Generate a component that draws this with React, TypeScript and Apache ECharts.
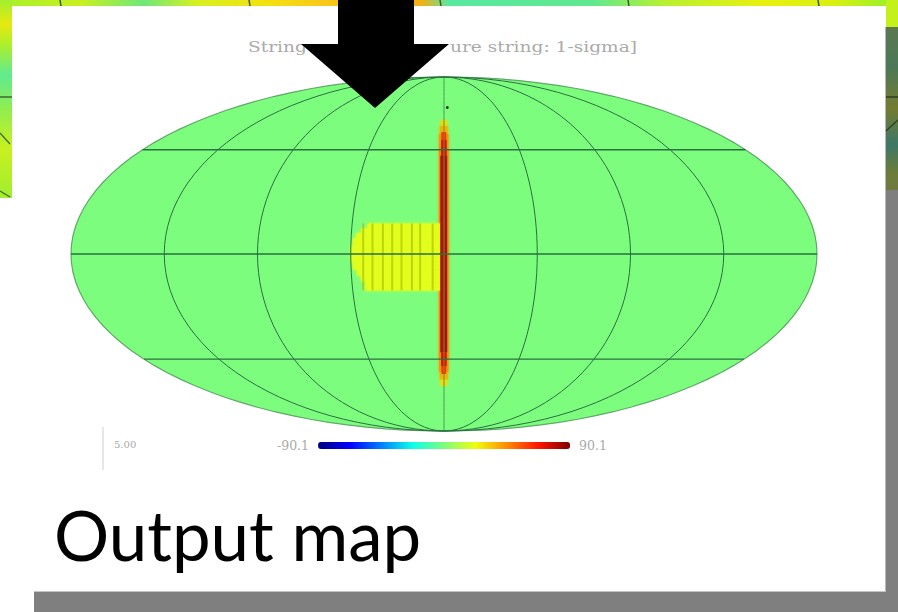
import React, { useEffect, useRef } from "react";
import * as echarts from "echarts";

// Graticule of the Mollweide map, in map degrees
const meridians = [-135, -90, -45, 45, 90, 135];
const centralMeridian = 0;
const parallels = [53, 0, -53.5];

// Map cells: [xStart, xEnd, yStart, yEnd, value]
const stringHalo = [
  [-1.6, 1.4, 68, 65, 30],
  [-2.0, 1.8, 65, 61, 38],
  [-2.3, 2.1, 61, 54, 44],
  [-2.4, 2.2, 54, -54, 46],
  [-2.3, 2.1, -54, -60, 44],
  [-2.0, 1.8, -60, -64, 38],
  [-1.6, 1.4, -64, -67, 30],
];
const stringCore = [
  [-1.2, 1.0, 62, 58, 62],
  [-1.4, 1.2, 58, 50, 74],
  [-1.7, 1.5, 50, -50, 82],
  [-1.4, 1.2, -50, -57, 74],
  [-1.2, 1.0, -57, -61, 62],
];
const block = [
  [-37, -2, 15.5, 13, 20],
  [-40, -2, 13, 10.5, 20],
  [-42.5, -2, 10.5, 8, 20],
  [-44, -2, 8, 4, 20],
  [-45, -2, 4, -4, 20],
  [-44, -2, -4, -8, 20],
  [-42, -2, -8, -11, 20],
  [-40, -2, -11, -14, 20],
  [-38, -2, -14, -18.5, 20],
];
const blockStripes = [-39, -34.5, -29.5, -25, -20.5, -15.5, -11.5, -5.5];
const dot = [[1.6, 74.5]];

const jet = ["#00007f", "#0000ff", "#007fff", "#0dffe9", "#7dfd7d", "#efff0f", "#ff8a00", "#ff1400", "#7f0000"];
const colorbarLabels = ["90.1", "-90.1"];
const titleLeft = "String";
const titleRight = "ure string: 1-sigma]";
const cornerLabel = "5.00";
const caption = "Output map";

// Colours of the map that shows behind the slide
const topStripColors = [
  [0, "#a6f02a"], [0.09, "#c8f020"], [0.16, "#6ee878"], [0.22, "#d8f020"], [0.3, "#f4e010"],
  [0.36, "#f8c818"], [0.47, "#f0b018"], [0.5, "#58e8a0"], [0.66, "#60e890"], [0.74, "#b8f030"],
  [0.85, "#e8f010"], [0.93, "#d8f010"], [1, "#90f030"],
];
const leftStripColors = [
  [0, "#a0f030"], [0.12, "#e8e810"], [0.22, "#b0f028"], [0.38, "#60ea90"], [0.55, "#90ee50"],
  [0.75, "#c8f020"], [1, "#a0ee30"],
];
const rightStripColors = [
  [0, "#5a7850"], [0.25, "#4c7858"], [0.5, "#747c30"], [0.72, "#3e7868"], [0.9, "#6c7c38"], [1, "#707840"],
];
const topTicks = [60, 249, 440, 628, 818];

function ellipsePoints(scale: number) {
  const pts: number[][] = [];
  for (let a = -90; a <= 90; a += 3) {
    const t = (a * Math.PI) / 180;
    pts.push([scale * Math.cos(t), 90 * Math.sin(t)]);
  }
  return pts;
}

const cellItem = (opacity: number, blur: number) => (_: any, api: any) => {
  const a = api.coord([api.value(0), api.value(2)]);
  const b = api.coord([api.value(1), api.value(3)]);
  const color = api.visual("color");
  return {
    type: "rect",
    shape: { x: a[0], y: a[1], width: b[0] - a[0], height: b[1] - a[1] },
    style: { fill: color, opacity, shadowBlur: blur, shadowColor: color },
  };
};

const cellSeries = (name: string, data: number[][], opacity = 1, blur = 3) => ({
  type: "custom",
  name,
  silent: true,
  clip: false,
  renderItem: cellItem(opacity, blur),
  encode: { x: [0, 1], y: [2, 3] },
  data,
});

const lineSeries = (data: number[][], color: string, width: number) => ({
  type: "line",
  data,
  showSymbol: false,
  symbol: "none",
  silent: true,
  clip: false,
  lineStyle: { color, width },
});

const parallelExtent = (y: number) => 180 * Math.sqrt(1 - (y / 90) * (y / 90));

const stripGradient = (stops: any[], horizontal: boolean) => ({
  type: "linear",
  x: 0,
  y: 0,
  x2: horizontal ? 1 : 0,
  y2: horizontal ? 0 : 1,
  colorStops: stops.map(([offset, color]) => ({ offset, color })),
});

const rect = (x: number, y: number, width: number, height: number, fill: any, z = 0) => ({
  type: "rect",
  z,
  silent: true,
  shape: { x, y, width, height },
  style: { fill },
});

const seg = (x1: number, y1: number, x2: number, y2: number, stroke: string, lineWidth: number, z = 1) => ({
  type: "line",
  z,
  silent: true,
  shape: { x1, y1, x2, y2 },
  style: { stroke, lineWidth },
});

const faintText = (text: string, x: number, y: number, fontSize: number, scaleX = 1, fill = "#aaaaaa") => ({
  type: "text",
  z: 1,
  silent: true,
  x,
  y,
  scaleX,
  style: {
    text,
    fill,
    fontFamily: "'DejaVu Serif', serif",
    fontSize,
    verticalAlign: "middle",
  },
});

export default function App() {
  const ref = useRef<HTMLDivElement>(null);
  useEffect(() => {
    document.body.style.margin = "0";
    document.body.style.overflow = "hidden";
    const chart = echarts.init(ref.current!, null, { renderer: "svg" });
    const outline = ellipsePoints(180);
    const outlineClosed = [...outline, ...outline.slice().reverse().map(([x, y]) => [-x, y])];
    chart.setOption({
      animation: false,
      backgroundColor: "#ffffff",
      grid: { left: 71, top: 77, width: 746, height: 354 },
      xAxis: { type: "value", min: -180, max: 180, show: false },
      yAxis: { type: "value", min: -90, max: 90, show: false },
      visualMap: {
        type: "continuous",
        min: -90.1,
        max: 90.1,
        dimension: 4,
        seriesIndex: [2, 3, 4],
        orient: "horizontal",
        left: 262,
        top: 424,
        itemWidth: 7,
        itemHeight: 252,
        textGap: 9,
        text: colorbarLabels,
        textStyle: { color: "#aaaaaa", fontFamily: "'DejaVu Serif', serif", fontSize: 12.5 },
        calculable: false,
        hoverLink: false,
        inRange: { color: jet },
      },
      series: [
        {
          type: "custom",
          silent: true,
          clip: false,
          renderItem: (_: any, api: any) => ({
            type: "polygon",
            shape: { points: outlineClosed.map((p) => api.coord(p)) },
            style: { fill: "#7dfd7d", stroke: "#5fa868", lineWidth: 1.2 },
          }),
          data: [[0, 0]],
        },
        lineSeries(ellipsePoints(centralMeridian), "#4f9a58", 1),
        cellSeries("halo", stringHalo),
        cellSeries("block", block),
        cellSeries("core", stringCore, 0.8, 1),
        {
          type: "custom",
          silent: true,
          clip: false,
          renderItem: (_: any, api: any) => {
            const a = api.coord([api.value(0), 15.5]);
            const b = api.coord([api.value(0), -18.5]);
            return {
              type: "line",
              shape: { x1: a[0], y1: a[1], x2: b[0], y2: b[1] },
              style: { stroke: "#a8b400", lineWidth: 2, opacity: 0.6 },
            };
          },
          encode: { x: 0 },
          data: blockStripes.map((x) => [x]),
        },
        ...meridians.map((m) => lineSeries(ellipsePoints(m), "#2a7040", 1)),
        ...parallels.map((y) =>
          lineSeries(
            [
              [-parallelExtent(y), y],
              [parallelExtent(y), y],
            ],
            "#2a7040",
            1.3
          )
        ),
        {
          type: "scatter",
          silent: true,
          symbolSize: 3,
          itemStyle: { color: "#111111" },
          data: dot,
        },
      ],
      graphic: [
        // map behind the slide
        rect(0, 0, 898, 6, stripGradient(topStripColors, true)),
        rect(0, 0, 12, 198, stripGradient(leftStripColors, false)),
        rect(886, 0, 12, 28, "#c4f01c"),
        rect(886, 27, 12, 163, stripGradient(rightStripColors, false)),
        rect(886, 190, 12, 422, "#7f7f7f"),
        rect(34, 592, 864, 20, "#7f7f7f"),
        seg(885.5, 27, 885.5, 592, "#b8b8b8", 1),
        seg(34, 591.5, 886, 591.5, "#c4c4c4", 1),
        ...topTicks.map((x) => seg(x, 0, x + 1, 6, "#3c5a30", 1.5)),
        seg(0, 97, 12, 97, "#3d6a30", 1.5),
        seg(0, 133, 10, 144, "#3d6a30", 1.2),
        seg(0, 191, 10, 197, "#3d6a30", 1.2),
        seg(886, 97, 898, 97, "#2c3c20", 1.5),
        seg(886, 131, 898, 120, "#2c3c20", 1.2),
        // faint labels of the map
        faintText(titleLeft, 248, 47, 15, 1.24),
        faintText(titleRight, 450, 47, 15, 1.24),
        faintText(cornerLabel, 114, 444, 10),
        seg(103, 427, 103, 470, "#cfcfcf", 1),
        // caption
        {
          type: "text",
          z: 10,
          silent: true,
          x: 54,
          y: 534,
          style: {
            text: caption,
            fill: "#000000",
            fontFamily: "Lato, 'Open Sans', sans-serif",
            fontSize: 69,
            verticalAlign: "middle",
          },
        },
        // arrow
        {
          type: "polygon",
          z: 20,
          silent: true,
          shape: {
            points: [
              [338, 0],
              [414, 0],
              [414, 44],
              [449, 44],
              [375, 108],
              [301, 44],
              [338, 44],
            ],
          },
          style: { fill: "#000000" },
        },
      ],
    });
    return () => chart.dispose();
  }, []);
  return <div ref={ref} style={{ position: "absolute", left: 0, top: 0, width: 898, height: 612 }} />;
}
